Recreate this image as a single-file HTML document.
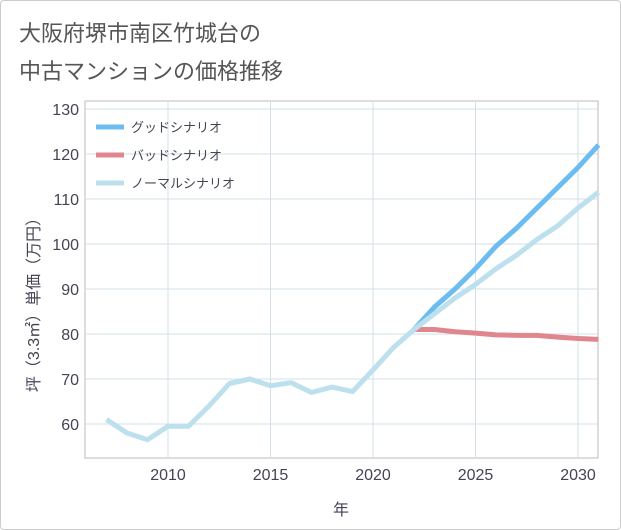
<!DOCTYPE html>
<html><head><meta charset="utf-8"><style>
body{margin:0;background:#fff;font-family:"Liberation Sans","Noto Sans CJK JP",sans-serif;}
#wrap{position:relative;width:619px;height:528px;border:1px solid #ccc;border-radius:4px;overflow:hidden}
</style></head><body>
<div id="wrap">
<svg id="c" width="621" height="530">
<text x="18" y="40" font-size="22" fill="#555">大阪府堺市南区竹城台の</text>
<text x="18" y="78" font-size="22" fill="#555">中古マンションの価格推移</text>
<rect x="84" y="100" width="513" height="357" fill="none" stroke="#bbb"/>
<g id="grid"></g><g id="lines"></g>
<text x="340" y="514" font-size="16" fill="#445" text-anchor="middle">年</text>
<text transform="translate(38,300) rotate(-90)" font-size="16" fill="#445" text-anchor="middle">坪（3.3㎡）単価（万円）</text>
<g id="legend"></g>
</svg></div>
<script>
const years=[2007,2008,2009,2010,2011,2012,2013,2014,2015,2016,2017,2018,2019,2020,2021,2022];
const hist=[61,58,56.5,59.5,59.5,64,69,70,68.5,69.2,67,68.2,67.2,72,77,81];
const fYears=[2022,2023,2024,2025,2026,2027,2028,2029,2030,2031];
const good=[81,86,90,94.5,99.5,103.5,108,112.5,117,122];
const normal=[81,84.5,88,91,94.5,97.5,101,104,108,111.5];
const bad=[81,81,80.5,80.2,79.8,79.7,79.7,79.3,79,78.8];
const xTicks=[2010,2015,2020,2025,2030];
const yTicks=[60,70,80,90,100,110,120,130];
const X=y=>167+(y-2010)*20.5, Y=v=>423-(v-60)*4.5;
const ns="http://www.w3.org/2000/svg";
function mk(t,a,p){const e=document.createElementNS(ns,t);for(const k in a)e.setAttribute(k,a[k]);p.appendChild(e);return e;}
const g=document.getElementById('grid');
xTicks.forEach(t=>{const l=mk('line',{x1:X(t),x2:X(t),y1:100,y2:457,stroke:'#d3e0ea'},g);


const tx=mk('text',{x:X(t),y:479,'font-size':16,fill:'#445','text-anchor':'middle'},g);tx.textContent=t;

});
yTicks.forEach(t=>{const l=mk('line',{x1:84,x2:597,y1:Y(t),y2:Y(t),stroke:'#d3e0ea'},g);


const tx=mk('text',{x:78,y:Y(t)+6,'font-size':16,fill:'#445','text-anchor':'end'},g);tx.textContent=t;

});
const L=document.getElementById('lines');
function line(xs,vs,c,n){const p=mk('polyline',{points:xs.map((x,i)=>X(x)+','+Y(vs[i])).join(' '),fill:'none',stroke:c,'stroke-width':5,'stroke-linejoin':'round'},L);

}
line(fYears,bad,'#e0868e','bad-scenario-line');
line(fYears,good,'#6cbcf0','good-scenario-line');
line(fYears,normal,'#bde0ee','normal-scenario-line');
line(years,hist,'#bde0ee','historical-line');
const lg=document.getElementById('legend');
[['グッドシナリオ','#6cbcf0'],['バッドシナリオ','#e0868e'],['ノーマルシナリオ','#bde0ee']].forEach((d,i)=>{
const y=126+i*28;
const l=mk('line',{x1:95,x2:123,y1:y,y2:y,stroke:d[1],'stroke-width':5},lg);


const t=mk('text',{x:130,y:y+5,'font-size':13,fill:'#445'},lg);t.textContent=d[0];

});
</script></body></html>
